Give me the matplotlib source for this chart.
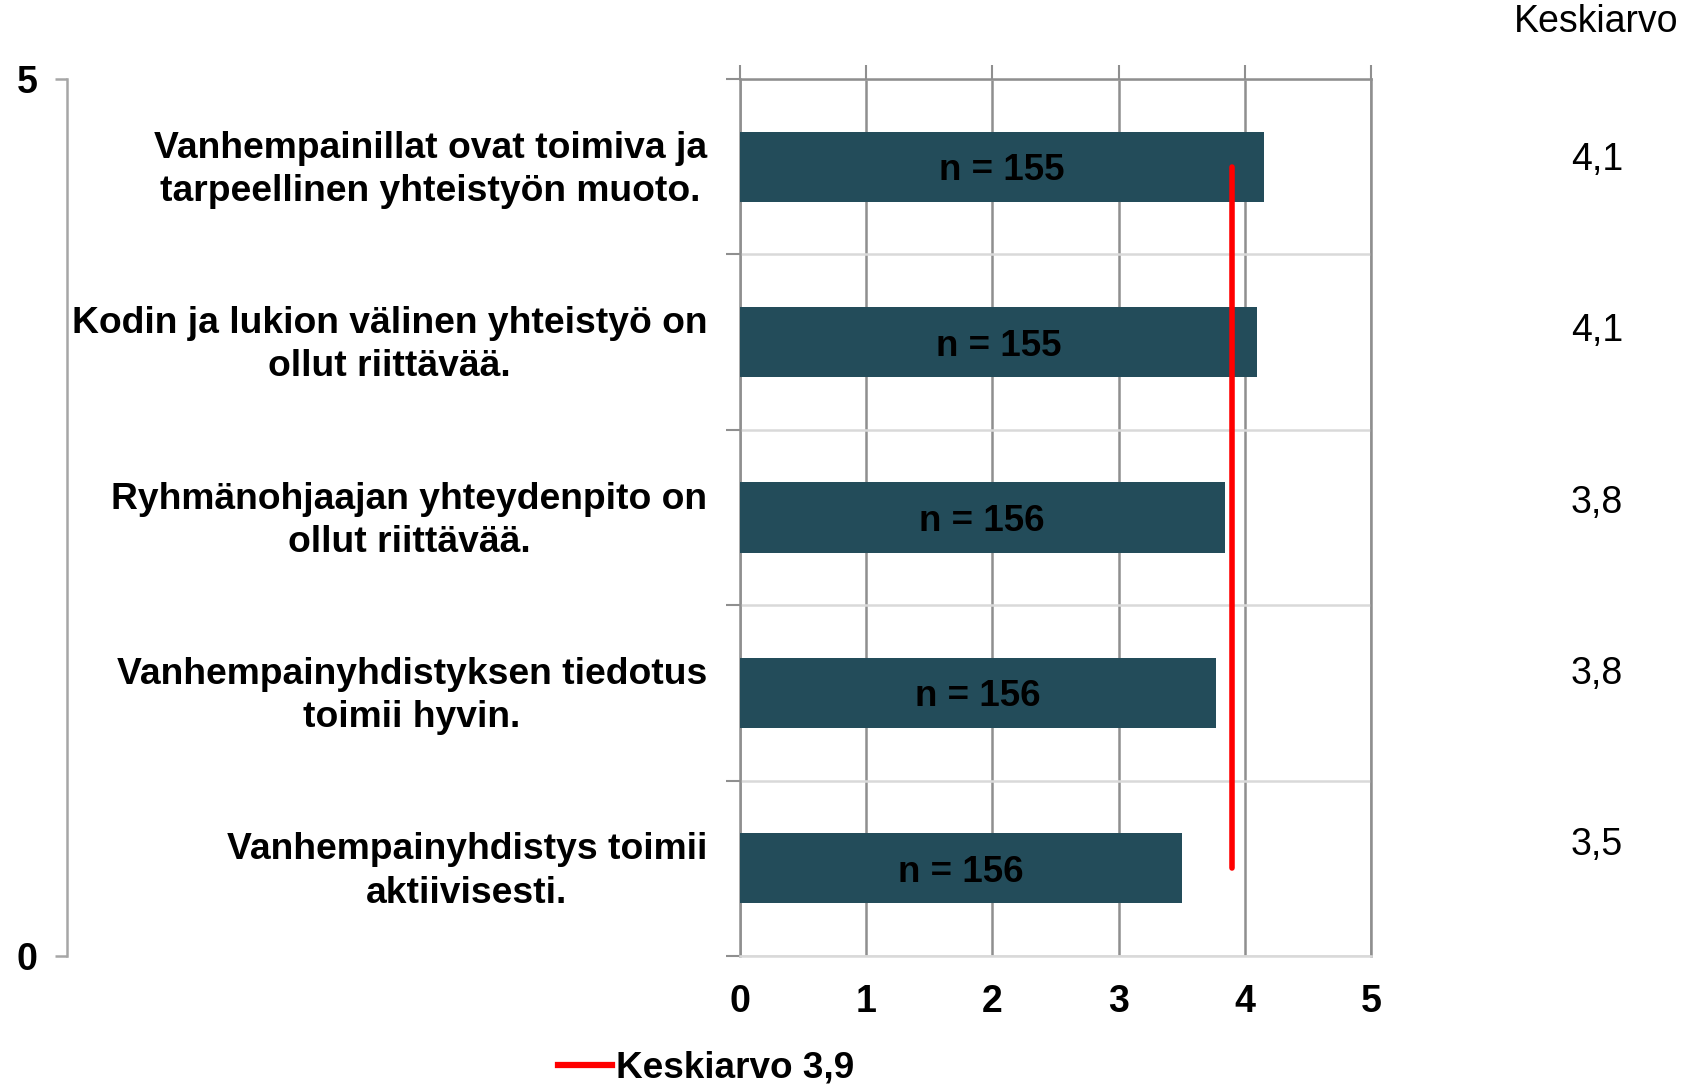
import matplotlib
matplotlib.use('Agg')
import matplotlib.pyplot as plt
from matplotlib.lines import Line2D

plt.rcParams['font.family'] = ['Liberation Sans', 'DejaVu Sans']

# data
kysymykset = ["Vanhempainillat ovat toimiva ja\ntarpeellinen yhteistyön muoto.",
              "Kodin ja lukion välinen yhteistyö on\nollut riittävää.",
              "Ryhmänohjaajan yhteydenpito on\nollut riittävää.",
              "Vanhempainyhdistyksen tiedotus\ntoimii hyvin.",
              "Vanhempainyhdistys toimii\naktiivisesti."]
arvot = [4.15, 4.10, 3.84, 3.77, 3.50]
n_vast = [155, 155, 156, 156, 156]
keskiarvo_txt = ["4,1", "4,1", "3,8", "3,8", "3,5"]
kokonais_ka = 3.9

W, H = 1685, 1088
fig = plt.figure(figsize=(W / 100, H / 100), dpi=100)
ax = fig.add_axes([740 / W, 1 - 956 / H, 631 / W, 877 / H])

ypos = list(range(len(arvot)))
ax.barh(ypos, arvot, height=0.4, color='#234C5A', zorder=3)
for y, v, n in zip(ypos, arvot, n_vast):
    ax.text(v / 2, y, f"n = {n}", ha='center', va='center_baseline',
            fontsize=26.5, fontweight='bold', color='black', zorder=4)

# keskiarvoviiva
ax.plot([kokonais_ka, kokonais_ka], [ypos[0], ypos[-1]], color='red', lw=4,
        solid_capstyle='round', zorder=5)

ax.set_xlim(0, 5)
ax.set_ylim(len(arvot) - 0.5, -0.5)
ax.set_xticks(range(6))
ax.set_xticklabels([str(i) for i in range(6)], fontsize=27, fontweight='bold')
ax.tick_params(axis='x', top=True, bottom=False, labeltop=False, labelbottom=True,
               length=10, width=1.5, color='#8f8f8f', direction='out', pad=10)
ax.set_yticks([])
ax.set_yticks([i - 0.5 for i in range(len(arvot) + 1)], minor=True)
ax.tick_params(axis='y', which='minor', length=10, width=1.5, color='#8f8f8f',
               direction='out', labelleft=False)
ax.grid(axis='x', color='#8f8f8f', lw=1.8, zorder=1)
ax.grid(axis='y', which='minor', color='#d9d9d9', lw=1.8, zorder=1)
for s in ['left', 'right', 'top']:
    ax.spines[s].set_color('#8f8f8f')
    ax.spines[s].set_linewidth(1.8)
ax.spines['bottom'].set_color('#d9d9d9')
ax.spines['bottom'].set_linewidth(1.8)

tr = ax.get_yaxis_transform()
for y, lab in zip(ypos, kysymykset):
    ax.text(-0.052, y + 0.018, lab, transform=tr, ha='right', va='center',
            multialignment='center', fontsize=26.8, fontweight='bold',
            linespacing=1.3)

# oikean reunan keskiarvot
fig.text(1596 / W, 1 - 22 / H, "Keskiarvo", ha='center', va='center', fontsize=27)
for i, t in enumerate(keskiarvo_txt):
    fig.text(1597 / W, 1 - (160 + i * 171.3) / H, t, ha='center', va='center',
             fontsize=27)

# vasen apuakseli 0-5
ax2 = fig.add_axes([67 / W, 1 - 956 / H, 0.0001, 877 / H])
ax2.set_ylim(0, 5)
ax2.set_yticks([0, 5])
ax2.set_yticklabels(['0', '5'], fontsize=27, fontweight='bold')
ax2.set_xticks([])
for s in ['right', 'top', 'bottom']:
    ax2.spines[s].set_visible(False)
ax2.spines['left'].set_color('#a6a6a6')
ax2.spines['left'].set_linewidth(1.8)
ax2.tick_params(axis='y', length=9, width=1.8, color='#a6a6a6', pad=12)
ax2.patch.set_visible(False)

# selite
h = Line2D([0], [0], color='red', lw=4.5)
fig.legend([h], [f"Keskiarvo {str(kokonais_ka).replace('.', ',')}"],
           loc='center left', bbox_to_anchor=(558 / W, 1 - 1068 / H),
           frameon=False, borderpad=0, borderaxespad=0, handlelength=1.45,
           handletextpad=0.12, prop={'size': 26.6, 'weight': 'bold'})

fig.savefig('out.png', dpi=100)
